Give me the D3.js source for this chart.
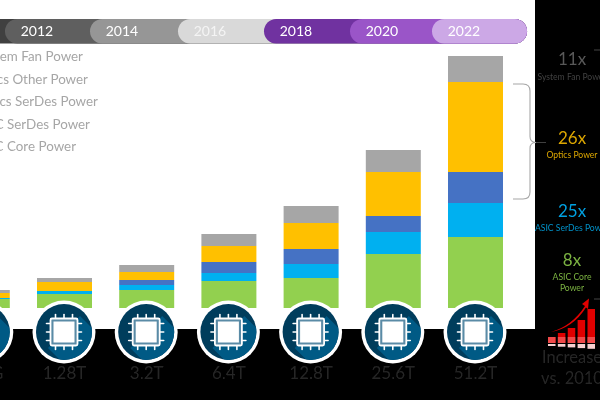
<!DOCTYPE html>
<html><head><meta charset="utf-8">
<script src="https://cdn.jsdelivr.net/npm/d3@7"></script>
<style>html,body{margin:0;padding:0;background:#000;overflow:hidden}svg{display:block}text{font-family:Lato,"Open Sans",sans-serif}</style>
</head><body><svg id="c" width="600" height="400"></svg>
<script>
const categories = ["640G","1.28T","3.2T","6.4T","12.8T","25.6T","51.2T"];
const asicCore   = [9,14,18,27,30,54,71];
const asicSerDes = [1,3,5,8,14,22,34];
const opticsSerDes=[0,0,5,11,15,16,31];
const opticsOther= [5,9,8,16,26,44,90];
const fanPower   = [3,4,7,12,17,22,26];
const seriesNames = ["ASIC Core Power","ASIC SerDes Power","Optics SerDes Power","Optics Other Power","System Fan Power"];
const seriesColors = ["#92d050","#00b0f0","#4472c4","#ffc000","#a6a6a6"];
const years = ["2010","2012","2014","2016","2018","2020","2022"];
const yearColors = ["#404040","#5f5f5f","#969696","#d9d9d9","#7030a0","#9a54c8","#cca8e6"];
const legendOrder = ["System Fan Power","Optics Other Power","Optics SerDes Power","ASIC SerDes Power","ASIC Core Power"];
const iconBars = [6,10,15,23,34];

const svg = d3.select("#c");
const root = svg.append("g").attr("filter","url(#soft)");
svg.append("defs").append("filter").attr("id","soft").attr("x",0).attr("y",0).attr("width","100%").attr("height","100%")
   .append("feGaussianBlur").attr("stdDeviation",0.45);

root.append("rect").attr("width",600).attr("height",400).attr("fill","#000");
root.append("rect").attr("width",535).attr("height",329).attr("fill","#fff");

// timeline ribbon
const ribbonEnd = 527, ribTop = 19, ribH = 24.5;
years.forEach((y,i)=>{
  const x0 = [ -80, 5, 90, 178, 264, 350, 432 ][i];
  root.append("rect").attr("x",x0).attr("y",ribTop).attr("width",ribbonEnd-x0).attr("height",ribH)
      .attr("rx",ribH/2).attr("fill",yearColors[i]);
  if(i>0) root.append("text").attr("x",x0+32).attr("y",ribTop+17).attr("text-anchor","middle")
      .attr("font-size",14).attr("fill",i==3?"#f4f4f4":"#fff").text(y);
});

// legend, bleeding off the left edge
const legendY = d3.scalePoint().domain(legendOrder).range([61,151]);
const legendEnd = [83,88,98,90,76];
root.append("g").selectAll("text").data(legendOrder).join("text")
  .attr("x",(d,i)=>legendEnd[i]).attr("y",d=>legendY(d)).attr("text-anchor","end")
  .attr("font-size",13.4).attr("fill","#a6a6a6").text(d=>d);

// bars
const x = d3.scaleBand().domain(categories).range([-45.2,503]).paddingInner(0.331).paddingOuter(0);
const y = d3.scaleLinear().domain([0,252]).range([308,56]);
const table = categories.map((c,i)=>({cat:c,[seriesNames[0]]:asicCore[i],[seriesNames[1]]:asicSerDes[i],[seriesNames[2]]:opticsSerDes[i],[seriesNames[3]]:opticsOther[i],[seriesNames[4]]:fanPower[i]}));
const stack = d3.stack().keys(seriesNames)(table);
root.append("g").selectAll("g").data(stack).join("g").attr("fill",(d,i)=>seriesColors[i])
 .selectAll("rect").data(d=>d).join("rect")
 .attr("x",d=>x(d.data.cat)).attr("width",x.bandwidth())
 .attr("y",d=>y(d[1])).attr("height",d=>y(d[0])-y(d[1]));

// brace beside the optics part of the last bar
const bt = y(d3.sum([asicCore[6],asicSerDes[6],opticsSerDes[6],opticsOther[6]]))+2;
const bb = y(asicCore[6]+asicSerDes[6])-4;
const bm = (bt+bb)/2+1;
root.append("path").attr("fill","none").attr("stroke","#a6a6a6").attr("stroke-width",1.1)
 .attr("d",`M513 ${bt}H523Q530 ${bt} 530 ${bt+7}V${bm-6}Q530 ${bm} 536 ${bm}Q530 ${bm} 530 ${bm+6}V${bb-7}Q530 ${bb} 523 ${bb}H513`);
root.append("line").attr("x1",536).attr("x2",546).attr("y1",bm).attr("y2",bm).attr("stroke","#404040");
root.append("line").attr("x1",594).attr("x2",600).attr("y1",50).attr("y2",50).attr("stroke","#404040");
root.append("line").attr("x1",594).attr("x2",600).attr("y1",299).attr("y2",299).attr("stroke","#404040");

// chip badges
const cy = 332;
const defs = svg.select("defs");
categories.forEach((c,i)=>{
  const cx = x(c)+x.bandwidth()/2 - 0.5;
  const cid = "cl"+i;
  defs.append("clipPath").attr("id",cid).append("circle").attr("cx",cx).attr("cy",cy).attr("r",28);
  const g = root.append("g");
  g.append("circle").attr("cx",cx).attr("cy",cy).attr("r",31.5).attr("fill","#fff");
  g.append("circle").attr("cx",cx).attr("cy",cy).attr("r",28).attr("fill","#003c5c");
  g.append("path").attr("clip-path",`url(#${cid})`).attr("fill","#005a85")
   .attr("d",`M${cx+16} ${cy-16}L${cx+40} ${cy+8}L${cx+8} ${cy+40}L${cx-16} ${cy+16}Z`);
  g.append("rect").attr("x",cx-13.5).attr("y",cy-13.5).attr("width",27).attr("height",27).attr("rx",1.5)
   .attr("fill","#5a8ba6").attr("stroke","#fff").attr("stroke-width",1.8);
  g.append("rect").attr("x",cx-10.5).attr("y",cy-10.5).attr("width",21).attr("height",21).attr("fill","#fff");
  [-8.5,0,8.5].forEach(o=>{
    [[cx+o,cy-14,cx+o,cy-17.5],[cx+o,cy+14,cx+o,cy+17.5],[cx-14,cy+o,cx-17.5,cy+o],[cx+14,cy+o,cx+17.5,cy+o]].forEach(p=>{
      g.append("line").attr("x1",p[0]).attr("y1",p[1]).attr("x2",p[2]).attr("y2",p[3])
       .attr("stroke","#fff").attr("stroke-width",1.6).attr("stroke-linecap","round");
    });
  });
  root.append("text").attr("x",cx+0.5).attr("y",379).attr("text-anchor","middle").attr("font-size",17).attr("fill","#262626").text(c);
});

// right column
const side = [
 ["11x",65,17,"#595959"],["System Fan Power",80,8.6,"#404040"],
 ["26x",144,17,"#dca600"],["Optics Power",158,8.6,"#dca600"],
 ["25x",217,17,"#00a0e0"],["ASIC SerDes Power",231,8.6,"#0090c8"],
 ["8x",266,17,"#7cb342"],["ASIC Core",280,8.6,"#7cb342"],["Power",291,8.6,"#7cb342"],
 ["Increase",363,16.5,"#262626"],["vs. 2010",384,16.5,"#262626"]
];
root.append("g").selectAll("text").data(side).join("text")
 .attr("x",572).attr("y",d=>d[1]).attr("text-anchor","middle").attr("font-size",d=>d[2]).attr("fill",d=>d[3]).text(d=>d[0]);

// small red growth icon
const ix = d3.scaleBand().domain(d3.range(iconBars.length)).range([548,595]).paddingInner(0.24);
const iy = d3.scaleLinear().domain([0,34]).range([343,309]);
const ig = root.append("g");
ig.selectAll("rect.b").data(iconBars).join("rect").attr("class","b")
 .attr("x",(d,i)=>ix(i)).attr("width",ix.bandwidth()).attr("y",d=>iy(d)).attr("height",d=>343-iy(d)).attr("fill","#e00000");
ig.selectAll("rect.m").data(iconBars).join("rect").attr("class","m")
 .attr("x",(d,i)=>ix(i)).attr("width",ix.bandwidth()).attr("y",337).attr("height",6).attr("fill","#f04848");
ig.selectAll("rect.r").data(iconBars).join("rect").attr("class","r")
 .attr("x",(d,i)=>ix(i)).attr("width",ix.bandwidth()).attr("y",344).attr("height",(d,i)=>2+i*0.7).attr("fill","#f8d0d0");
ig.append("path").attr("fill","#e00000").attr("d","M551 332Q572 326 585 306L582 304L589 298.5L588 309L586 307.5Q573 328 551 332Z");
</script></body></html>
